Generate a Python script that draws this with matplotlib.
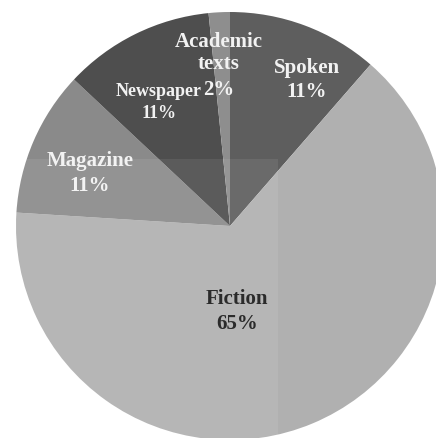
import matplotlib
matplotlib.use("Agg")
import matplotlib.pyplot as plt
from matplotlib.patches import Rectangle

categories = ["Spoken", "Fiction", "Magazine", "Newspaper", "Academic\ntexts"]
values = [11.4, 64.6, 11.0, 11.4, 1.6]
colors = ["#5e5e5e", "#b0b0b0", "#8a8a8a", "#4e4e4e", "#8e8e8e"]

W, H = 436, 438
cx, cy, R = 230, 226, 214

fig = plt.figure(figsize=(W / 100, H / 100), dpi=100)
ax = fig.add_axes([0, 0, 1, 1])
ax.axis("off")

wedges, _ = ax.pie(values, colors=colors, startangle=90, counterclock=False,
                   radius=1.0, center=(0, 0), frame=False,
                   wedgeprops=dict(linewidth=0))
ax.set_aspect("auto")
ax.set_xlim(-cx / R, (W - cx) / R)
ax.set_ylim(-(H - cy) / R, cy / R)

def px(x, y):
    return ((x - cx) / R, (cy - y) / R)

tot = sum(values)
pct = [f"{round(v / tot * 100):d}%" for v in values]
font = ["Liberation Serif", "DejaVu Serif"]
# (x, baseline of name's last line, baseline of percentage) in pixels
name_pos = [(307, 73), (237, 304), (90, 166), (159, 96), (219, 69)]
pct_pos = [(307, 97), (237, 329), (90, 191), (159, 118), (219, 95)]
sizes = [15, 15, 15, 13, 15]
tcolors = ["#f2f2f2", "#1a1a1a", "#f2f2f2", "#f2f2f2", "#f2f2f2"]
for cat, p, npos, ppos, s, c in zip(categories, pct, name_pos, pct_pos, sizes, tcolors):
    x, y = px(*npos)
    ax.text(x, y, cat, ha="center", va="baseline", fontsize=s, multialignment="center",
            fontweight="bold", family=font, color=c, linespacing=1.15)
    x, y = px(*ppos)
    ax.text(x, y, p, ha="center", va="baseline", fontsize=s,
            fontweight="bold", family=font, color=c)

# faint lighter overlay (scan artifact)
fig.patches.append(Rectangle((0, 0), 278 / W, (H - 159) / H, transform=fig.transFigure,
                             facecolor="white", alpha=0.08, edgecolor="none", zorder=5))

fig.savefig("out.png", dpi=100)
